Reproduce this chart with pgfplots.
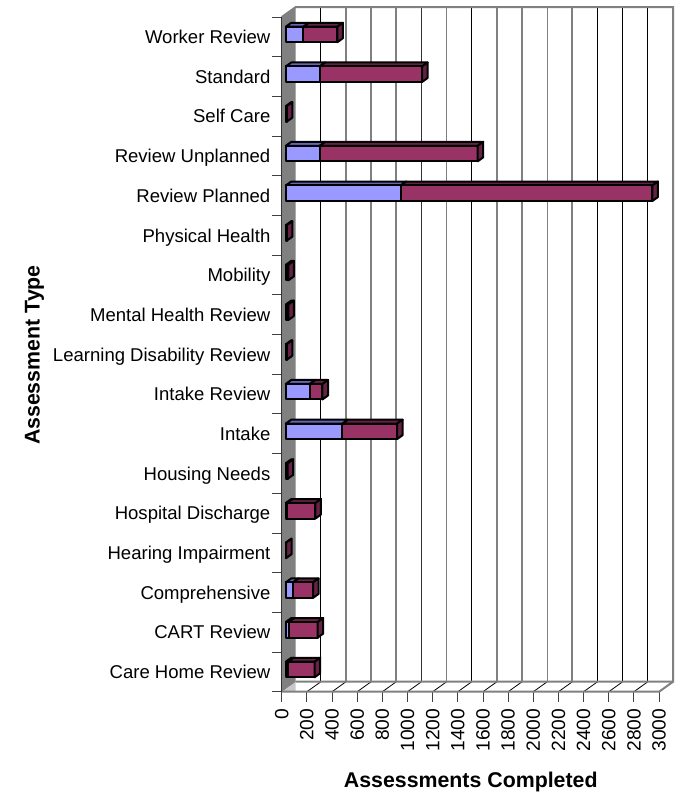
\documentclass[border=0pt]{standalone}
\usepackage{pgfplots}
\pgfplotsset{compat=1.18}
\usepackage{fontspec}
\setmainfont{Liberation Sans}

\definecolor{wall}{HTML}{808080}
\definecolor{wedge}{HTML}{C8C8C8}
\definecolor{bluef}{HTML}{9999FF}
\definecolor{bluet}{HTML}{6666B8}
\definecolor{marf}{HTML}{993366}
\definecolor{mart}{HTML}{662244}

% one face as a closed polygon
\newcommand{\face}[9]{%
  \addplot[fill=#1,draw=black,line width=1.5pt,line join=round,forget plot]
    coordinates {(#2,#3) (#4,#5) (#6,#7) (#8,#9)} -- cycle;}

% one stacked segment: category, from, to, front colour, top colour
\newcommand{\seg}[5]{%
  \pgfmathsetmacro{\xa}{#2+32}\pgfmathsetmacro{\xb}{#3+32}%
  \pgfmathsetmacro{\xc}{\xa+44}\pgfmathsetmacro{\xd}{\xb+44}%
  \pgfmathsetmacro{\ya}{#1+0.365}\pgfmathsetmacro{\yb}{#1+0.756}%
  \pgfmathsetmacro{\yc}{\ya+0.1}\pgfmathsetmacro{\yd}{\yb+0.1}%
  \face{#5}{\xa}{\yb}{\xb}{\yb}{\xd}{\yd}{\xc}{\yd}%
  \face{#4}{\xa}{\ya}{\xb}{\ya}{\xb}{\yb}{\xa}{\yb}}

% whole bar: category, blue end, total
\newcommand{\assbar}[3]{%
  \ifnum#2>0 \seg{#1}{0}{#2}{bluef}{bluet}\fi
  \seg{#1}{#2}{#3}{marf}{mart}%
  \pgfmathsetmacro{\xb}{#3+32}\pgfmathsetmacro{\xd}{\xb+44}%
  \pgfmathsetmacro{\ya}{#1+0.365}\pgfmathsetmacro{\yb}{#1+0.756}%
  \pgfmathsetmacro{\yc}{\ya+0.1}\pgfmathsetmacro{\yd}{\yb+0.1}%
  \face{mart}{\xb}{\ya}{\xd}{\yc}{\xd}{\yd}{\xb}{\yb}}

% back wall grid line and its floor diagonal
\newcommand{\gline}[3]{%
  \pgfmathsetmacro{\xg}{#1+111}%
  \addplot[#2,line width=#3,forget plot] coordinates {(\xg,0.252) (\xg,17.252)};
  \addplot[black,line width=0.6pt,forget plot] coordinates {(#1,0) (\xg,0.252)};}

\begin{document}
\begin{tikzpicture}[x=1pt,y=1pt]
\useasboundingbox (-211.3,-75.2) rectangle (298.7,518.8);
\begin{axis}[
  at={(0,0)},anchor=south west,
  scale only axis,width=283pt,height=506pt,
  xmin=0,xmax=3000,ymin=0,ymax=17,
  clip=false,
  axis line style={draw=none},
  xtick={0,200,...,3000},
  ytick={0,...,17},
  yticklabels={},
  extra y ticks={0.5,1.5,2.5,3.5,4.5,5.5,6.5,7.5,8.5,9.5,10.5,11.5,12.5,13.5,14.5,15.5,16.5},
  extra y tick labels={Care Home Review,CART Review,Comprehensive,Hearing Impairment,Hospital Discharge,Housing Needs,Intake,Intake Review,Learning Disability Review,Mental Health Review,Mobility,Physical Health,Review Planned,Review Unplanned,Self Care,Standard,Worker Review},
  extra y tick style={major tick length=0pt,tick style={draw=none},
    yticklabel style={font=\fontsize{13.9}{16}\selectfont,anchor=east,xshift=-5pt,text height=12pt,text depth=2pt}},
  xtick pos=bottom,ytick pos=left,
  tick align=outside,
  major tick length=7.5pt,
  tick style={draw=black!75,line width=0.7pt},
  scaled x ticks=false,
  /pgf/number format/1000 sep={},
  /pgf/number format/assume math mode=true,
  xticklabel style={rotate=90,anchor=east,font=\fontsize{14.4}{16}\selectfont,inner sep=0pt,xshift=-5pt},
  xlabel={\textbf{Assessments Completed}},
  ylabel={\textbf{Assessment Type}},
  every axis x label/.style={at={(rel axis cs:0.501,-0.1345)},anchor=center,font=\fontsize{16}{18}\selectfont},
  every axis y label/.style={at={(rel axis cs:-0.655,0.499)},anchor=center,rotate=90,font=\fontsize{16}{18}\selectfont},
]
% walls and floor
\addplot[fill=wedge,draw=none,forget plot] coordinates {(0,0) (111,0.252) (111,0)} -- cycle;
\addplot[fill=wall,draw=none,forget plot] coordinates {(0,0) (111,0.252) (111,17.252) (0,17)} -- cycle;
\gline{200}{black}{0.8pt}
\gline{400}{wall}{1.1pt}
\gline{600}{wall}{1.1pt}
\gline{800}{wall}{1.4pt}
\gline{1000}{black!80}{0.8pt}
\gline{1200}{wall}{1.1pt}
\gline{1400}{black}{0.8pt}
\gline{1600}{wall}{1.1pt}
\gline{1800}{wall}{1.1pt}
\gline{2000}{wall}{1.1pt}
\gline{2200}{wall}{1.4pt}
\gline{2400}{black}{0.8pt}
\gline{2600}{black}{0.8pt}
\gline{2800}{black}{0.8pt}
\addplot[wall,line width=1.5pt,forget plot] coordinates {(0,17) (111,17.252) (3111,17.252) (3111,0.252) (111,0.252)};
\addplot[wall,line width=1.5pt,forget plot] coordinates {(0,0) (3000,0) (3111,0.252)};
\addplot[black!80,line width=1pt,forget plot] coordinates {(0,0) (0,17)};
% bars, bottom row first
\assbar{0}{18}{230}
\assbar{1}{24}{254}
\assbar{2}{58}{217}
\assbar{3}{0}{2}
\assbar{4}{12}{236}
\assbar{5}{0}{15}
\assbar{6}{451}{885}
\assbar{7}{191}{292}
\assbar{8}{0}{8}
\assbar{9}{0}{20}
\assbar{10}{0}{20}
\assbar{11}{0}{8}
\assbar{12}{914}{2915}
\assbar{13}{270}{1526}
\assbar{14}{0}{8}
\assbar{15}{270}{1084}
\assbar{16}{140}{410}
\end{axis}
\end{tikzpicture}
\end{document}
